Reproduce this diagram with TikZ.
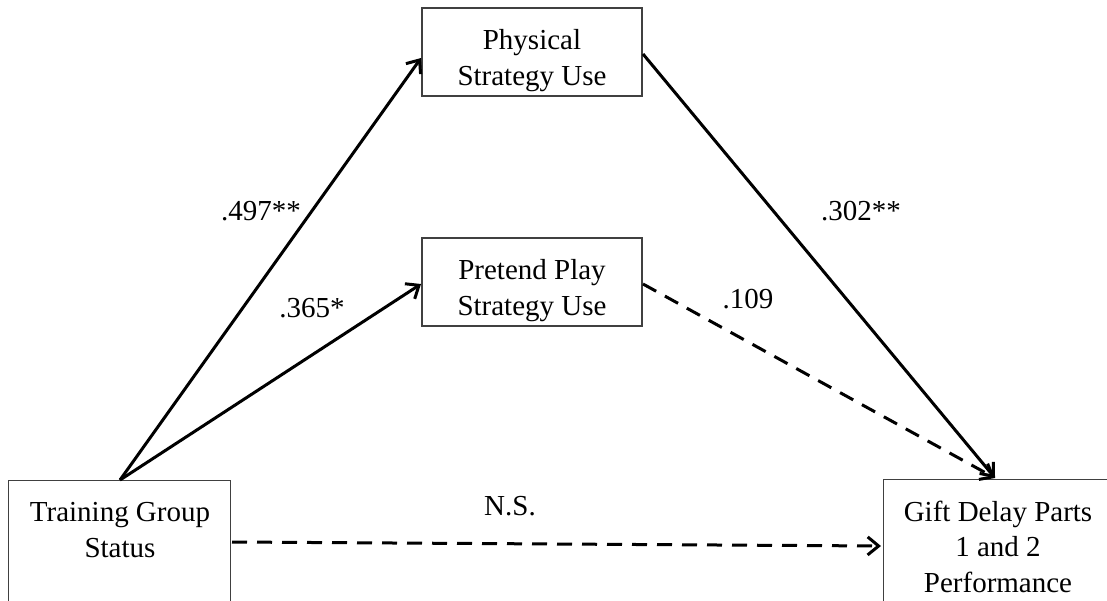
\documentclass[tikz,border=0pt]{standalone}
\usepackage{fontspec}
\setmainfont{Liberation Serif}
\usetikzlibrary{arrows.meta}
\begin{document}
\begin{tikzpicture}[x=1pt,y=-1pt,
  box/.style={draw=black!75,line width=1.3pt,rectangle,inner sep=0pt},
  txt/.style={align=center,font=\fontsize{29}{35.5}\selectfont,inner sep=0pt,anchor=base},
  lbl/.style={font=\fontsize{29}{35}\selectfont,inner sep=0pt,anchor=base},
  path/.style={line width=3pt,-{Straight Barb[length=11pt,width=18pt,line width=3pt]}},
  dpath/.style={path,dash pattern=on 15pt off 10pt}]
\useasboundingbox (0,0) rectangle (1107,600);
\clip (0,0) rectangle (1107,600);

% boxes (text placed by the baseline of its last line)
\node[box,minimum width=220pt,minimum height=88pt] (phys) at (532,52) {};
\node[txt] (physt) at (532,85) {Physical\\Strategy Use};
\node[box,minimum width=220pt,minimum height=88pt] (pret) at (532,282) {};
\node[txt] (prett) at (532,315) {Pretend Play\\Strategy Use};
\node[box,minimum width=222pt,minimum height=160pt,anchor=north west] (train) at (8,480) {};
\node[txt] (traint) at (120,557) {Training Group\\Status};
\node[box,minimum width=230pt,minimum height=160pt,anchor=north west] (gift) at (883,479) {};
\node[txt] (giftt) at (998,592) {Gift Delay Parts\\1 and 2\\Performance};

% connector end points
\coordinate (src) at (120,480);
\coordinate (dst) at (995,478);
\coordinate (physin) at (421,58);
\coordinate (physout) at (643,54);
\coordinate (pretin) at (421,284);
\coordinate (pretout) at (643,284);
\coordinate (trainout) at (232,542);
\coordinate (giftin) at (881,546);

% connectors
\draw[path] (src) -- (physin);
\draw[path] (src) -- (pretin);
\draw[path] (physout) -- (dst);
\draw[dpath] (pretout) -- (dst);
\draw[dpath] (trainout) -- (giftin);

% coefficients
\node[lbl] (c1) at (261,220) {.497**};
\node[lbl] (c2) at (312,317) {.365*};
\node[lbl] (c3) at (861,220) {.302**};
\node[lbl] (c4) at (748,308) {.109};
\node[lbl] (c5) at (510,515) {N.S.};
\end{tikzpicture}
\end{document}
